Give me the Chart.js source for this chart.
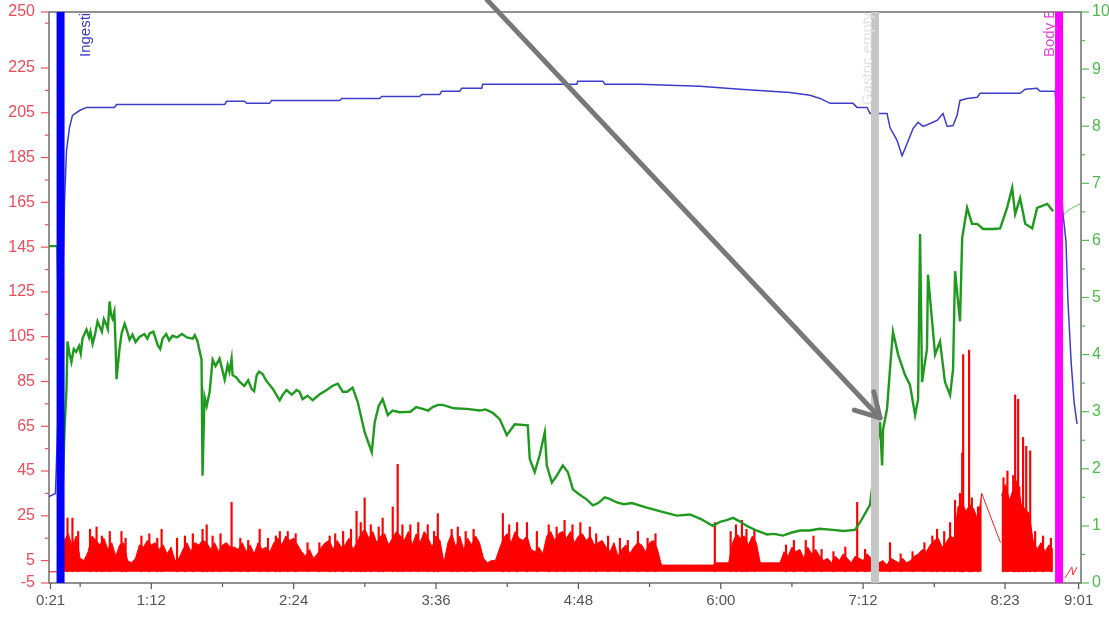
<!DOCTYPE html>
<html>
<head>
<meta charset="utf-8">
<title>Capsule recording</title>
<script src="https://cdn.jsdelivr.net/npm/chart.js@4.4.1/dist/chart.umd.min.js"></script>
<style>
  html, body { margin: 0; padding: 0; background: #fff; }
  #chart { display: block; }
</style>
</head>
<body>
<canvas id="chart" width="1109" height="617"></canvas>
<script>
// Time axis is in minutes from the start of the recording
const xTickValues = [21, 72, 144, 216, 288, 360, 432, 503.8, 541];
const xTickLabels = ['0:21', '1:12', '2:24', '3:36', '4:48', '6:00', '7:12', '8:23', '9:01'];
const xMinorTicks = [36, 108, 180, 252, 324, 396, 468];

const leftTickValues = [-5, 5, 25, 45, 65, 85, 105, 125, 145, 165, 185, 205, 225, 250];
const leftMinorTicks = [15, 35, 55, 75, 95, 115, 135, 155, 175, 195, 215, 245];
const rightTickValues = [0, 1, 2, 3, 4, 5, 6, 7, 8, 9, 10];
const rightMinorTicks = [0.5, 1.5, 2.5, 3.5, 4.5, 5.5, 6.5, 7.5, 8.5, 9.5];

// Event markers
const eventTimes = [26.1, 438, 531.1];
const eventNames = ['Ingestion', 'Gastric emptying', 'Body Exit'];

// Temperature trace (left axis) as [minute, value]
const tempTrace = [
  [20.2, 33.6], [23.5, 35.0], [27.6, 143], [28.1, 165.6], [29.1, 188.1], [30.6, 198.4],
  [32.1, 203.8], [35.7, 206.0], [39.2, 207.4], [53.4, 207.4], [54.4, 208.7], [109.1, 208.7],
  [110.1, 210.1], [119.2, 210.1], [120.2, 209.2], [131.8, 209.2], [132.8, 210.5], [167.3, 210.5],
  [168.3, 211.4], [187.5, 211.4], [188.5, 212.3], [207.7, 212.3], [208.8, 213.2], [217.9, 213.2],
  [218.9, 214.6], [228.0, 214.6], [229.0, 215.9], [239.1, 215.9], [239.6, 217.7], [287.2, 217.7],
  [287.7, 219.1], [300.4, 219.1], [301.4, 217.7], [319.1, 217.7], [349.5, 216.8], [369.7, 215.5],
  [395.0, 214.1], [405.1, 212.8], [410.2, 211.4], [415.3, 209.2], [426.9, 209.2], [428.9, 207.4],
  [434.0, 207.4], [435.5, 204.7], [444.1, 204.7], [445.6, 198.4], [449.2, 192.6], [451.7, 185.8],
  [454.2, 191.2], [457.3, 198.0], [459.8, 200.7], [462.3, 198.9], [465.9, 200.2], [469.4, 201.6],
  [472.4, 204.7], [474.5, 198.9], [477.5, 199.3], [479.5, 203.8], [481.0, 210.5], [484.6, 211.4],
  [489.7, 211.9], [491.2, 213.7], [511.4, 213.7], [514.0, 215.5], [520.0, 215.9], [521.5, 214.6],
  [529.1, 214.6], [533.1, 159.8], [534.6, 147.7], [535.6, 120.7], [537.2, 93.8], [538.7, 75.8],
  [540.2, 66.0]
];

// pH trace (right axis) as [minute, pH]
const phTrace = [
  [20.2, 5.90], [24.5, 5.90], [27.1, 1.58], [28.1, 2.69], [29.1, 3.40], [29.6, 4.23], [30.6, 4.02],
  [31.6, 3.87], [32.8, 4.10], [34.0, 4.05], [35.5, 4.15], [36.3, 4.02], [37.2, 4.28], [38.0, 4.35],
  [39.2, 4.44], [40.5, 4.30], [41.2, 4.40], [42.3, 4.19], [43.5, 4.35], [44.8, 4.58], [46.0, 4.48],
  [47.0, 4.40], [48.0, 4.62], [49.3, 4.52], [50.0, 4.45], [50.9, 4.93], [51.6, 4.70], [52.4, 4.63],
  [53.3, 4.75], [53.9, 4.20], [54.4, 3.57], [55.9, 4.10], [57.0, 4.38], [58.5, 4.54], [59.7, 4.42],
  [61.0, 4.26], [62.5, 4.35], [64.0, 4.22], [66.0, 4.31], [68.5, 4.36], [70.0, 4.28], [71.1, 4.37],
  [73.0, 4.40], [74.0, 4.30], [75.2, 4.17], [76.5, 4.10], [77.7, 4.28], [79.5, 4.36], [81.0, 4.25],
  [82.7, 4.33], [85.0, 4.30], [87.5, 4.36], [90.0, 4.30], [92.9, 4.28], [94.0, 4.34], [95.4, 4.23],
  [96.5, 4.05], [97.4, 3.91], [97.9, 1.88], [98.9, 3.26], [100.0, 3.10], [101.5, 3.35], [103.0, 3.91],
  [104.5, 3.80], [106.5, 3.93], [107.8, 3.75], [109.1, 3.56], [110.6, 3.82], [111.5, 3.70], [112.6, 3.93],
  [113.1, 3.64], [115.0, 3.60], [116.7, 3.52], [119.0, 3.45], [121.0, 3.55], [122.7, 3.40], [124.0, 3.36],
  [125.3, 3.64], [126.5, 3.70], [128.3, 3.66], [130.0, 3.55], [131.8, 3.47], [133.5, 3.40], [136.9, 3.20],
  [138.5, 3.30], [140.4, 3.38], [143.0, 3.30], [145.5, 3.38], [147.0, 3.35], [148.5, 3.22], [151.0, 3.28],
  [153.6, 3.20], [157.0, 3.30], [160.7, 3.38], [163.5, 3.45], [166.3, 3.49], [168.8, 3.35], [171.0, 3.35],
  [173.8, 3.42], [176.4, 3.17], [179.9, 2.64], [183.5, 2.29], [185.0, 2.82], [187.0, 3.10], [189.0, 3.22],
  [191.6, 2.94], [194.0, 3.02], [197.6, 2.99], [203.0, 3.00], [206.0, 3.08], [209.3, 3.05], [212.0, 3.02],
  [214.3, 3.08], [217.0, 3.12], [219.4, 3.12], [225.0, 3.06], [231.5, 3.05], [238.0, 3.02], [241.0, 3.04],
  [244.7, 2.98], [248.2, 2.87], [251.8, 2.59], [255.8, 2.78], [262.4, 2.76], [263.4, 2.17], [265.9, 1.94],
  [268.5, 2.25], [271.0, 2.64], [272.0, 2.06], [274.6, 1.76], [277.1, 1.88], [280.1, 2.06], [282.7, 1.94],
  [285.2, 1.64], [288.5, 1.55], [292.3, 1.46], [295.3, 1.36], [298.0, 1.40], [301.4, 1.50], [304.0, 1.47],
  [307.5, 1.41], [311.0, 1.38], [315.0, 1.40], [322.6, 1.32], [330.0, 1.25], [337.8, 1.18], [344.4, 1.20],
  [350.0, 1.12], [353.0, 1.06], [356.0, 1.00], [359.6, 1.07], [363.0, 1.10], [366.2, 1.14], [369.5, 1.08],
  [373.2, 1.00], [378.0, 0.92], [383.4, 0.85], [387.0, 0.86], [391.5, 0.83], [395.5, 0.88], [400.1, 0.92],
  [405.0, 0.92], [410.0, 0.95], [416.8, 0.93], [422.0, 0.91], [427.9, 0.93], [430.4, 1.06], [435.5, 1.37],
  [440.6, 2.82], [441.6, 2.06], [442.1, 2.69], [444.1, 3.05], [445.6, 3.75], [447.1, 4.40], [449.7, 4.00],
  [453.2, 3.64], [455.7, 3.47], [458.3, 2.94], [459.8, 3.22], [460.8, 6.11], [461.8, 3.52], [464.3, 4.10],
  [464.8, 5.40], [466.9, 4.58], [468.4, 4.00], [470.9, 4.23], [473.4, 3.52], [476.0, 3.29], [477.5, 3.75],
  [478.5, 5.46], [481.0, 4.58], [482.1, 6.04], [484.6, 6.57], [487.1, 6.29], [489.7, 6.29], [492.7, 6.20],
  [497.7, 6.20], [501.3, 6.21], [504.8, 6.57], [507.4, 6.92], [508.9, 6.46], [511.4, 6.74], [514.0, 6.29],
  [517.5, 6.21], [520.0, 6.57], [525.1, 6.64], [528.1, 6.51]
];
const phAfterExit = [[532.7, 6.43], [536.7, 6.55], [541.8, 6.64]];

// Pressure (left axis), sampled every 2 minutes from minute 20; null = no signal
const pressureStart = 20;
const pressureStep = 2;
const pressureValues = [
  0, 0, 0, 0, 14, 17, 11, 16, 6, 5,
  9, 16, 14, 12, 15, 10, 13, 7, 12, 13,
  5, 4, 6, 12, 11, 14, 12, 13, 10, 12,
  8, 11, 5, 6, 10, 13, 9, 13, 12, 14,
  13, 10, 13, 9, 12, 13, 11, 11, 10, 13,
  9, 12, 8, 13, 10, 11, 9, 13, 15, 12,
  16, 14, 15, 12, 9, 7, 10, 6, 8, 11,
  13, 14, 10, 14, 11, 12, 15, 10, 13, 17,
  19, 15, 18, 13, 16, 17, 12, 15, 18, 16,
  14, 18, 12, 17, 13, 18, 15, 11, 16, 14,
  4, 13, 17, 11, 16, 10, 15, 12, 16, 13,
  6, 4, 5, 5, 10, 15, 17, 13, 18, 15,
  14, 16, 10, 9, 11, 8, 16, 18, 14, 17,
  18, 15, 18, 13, 16, 17, 14, 16, 12, 13,
  14, 11, 9, 13, 7, 10, 12, 8, 11, 13,
  12, 9, 13, 14, 10, 3, 3, 3, 3, 3,
  3, 3, 3, 3, 3, 3, 3, 3, 3, 4,
  4, 4, 4, 13, 17, 15, 16, 12, 16, 13,
  4, 4, 4, 4, 4, 4, 9, 7, 11, 9,
  10, 6, 11, 8, 10, 7, 5, 6, 4, 7,
  5, 8, 6, 4, 7, 6, 5, 8, 6, 4,
  4, 5, 3, 6, 5, 4, 6, 4, 5, 7,
  8, 10, 9, 12, 14, 15, 11, 13, 16, 15,
  29, 31, 27, 30, 28, 23, 35,
  null, null, null, null,
  34, 39, 32, 37, 41, 30, 28, 26, 14, 10, 13, 9, 12, 10
];
// Isolated pressure peaks as [minute, value]
const pressurePeaks = [
  [29.6, 24], [32.1, 24], [35, 18], [41, 19], [44.3, 20], [47, 16], [51, 18], [56.9, 18], [59, 15],
  [67, 16], [71, 17], [75, 15], [77.2, 19], [85, 15], [89, 16], [93, 17], [97.9, 19], [100.0, 21],
  [103, 16], [107, 17], [112.6, 31], [117, 15], [121, 14], [126.8, 19], [131, 15], [135, 16], [137, 18],
  [141.0, 18], [145, 17], [151, 13], [157, 13], [162.2, 16], [165, 17], [169, 18], [173, 19], [175.8, 27],
  [177.9, 22], [179.9, 33], [183, 21], [187, 20], [189.0, 24], [194.1, 29], [196.6, 48], [199, 21],
  [203, 21], [207, 22], [211.8, 21], [215, 18], [216.9, 26], [223.9, 19], [227, 20], [231, 18], [235, 19],
  [249.8, 26], [253, 21], [257, 22], [262.0, 22], [267, 18], [273, 21], [277, 20], [281.0, 23], [285, 21],
  [289, 22], [293.8, 20], [297, 17], [303, 16], [309, 15], [313, 14], [318.1, 18], [323, 15], [327, 17],
  [357.0, 22], [365, 18], [367.7, 21], [370.7, 23], [373, 19], [377, 19], [393, 12], [397, 14], [403, 14],
  [406.9, 16], [411, 10], [417, 9], [423, 11], [429.0, 31], [433, 10], [445.6, 13], [451, 8], [457, 9],
  [463, 13], [467, 16], [469.4, 19], [473, 18], [476.0, 22], [478.5, 32], [481, 35], [482.1, 53],
  [482.6, 97], [485.6, 99], [487, 33], [490.1, 29], [503, 42], [505, 45], [507.9, 43], [508.9, 79],
  [510.4, 77], [511, 38], [512.9, 60], [514.5, 56], [516.5, 54], [519, 18], [523, 16], [527, 15]
];
const pressureDropout = [[492, 35], [501.5, 13]];
const pressureAfterExit = [[534.1, -2.8], [537.6, 2.1], [538.1, -1.4], [540.2, 2.1]];

// Arrow annotation, in [minute, left-axis value]
const arrowFrom = [241.8, 255.4];
const arrowTo = [440.6, 68.7];

const markerStyles = [
  { color: '#0000ff', width: 8, text: '#3c3cc8', labelDx: 25, labelStart: 45 },
  { color: '#c6c6c6', width: 8, text: '#e2e2e2', labelDx: -7, labelStart: 93 },
  { color: '#ff00ff', width: 8, text: '#e04ad2', labelDx: -9, labelStart: 45 }
];

const FONT = '"Liberation Sans", Arial, sans-serif';
const toPoints = arr => arr.map(([x, y]) => ({ x, y }));

function tickMarks(ctx, scale, values, len, color, side) {
  ctx.strokeStyle = color;
  ctx.lineWidth = 1.2;
  values.forEach(v => {
    const p = scale.getPixelForValue(v);
    ctx.beginPath();
    if (side === 'left') { ctx.moveTo(scale.right - len, p); ctx.lineTo(scale.right, p); }
    else if (side === 'right') { ctx.moveTo(scale.left, p); ctx.lineTo(scale.left + len, p); }
    else { ctx.moveTo(p, scale.top); ctx.lineTo(p, scale.top + len); }
    ctx.stroke();
  });
}

const overlay = {
  id: 'overlay',
  beforeDatasetsDraw(chart) {
    const { ctx, chartArea: a, scales } = chart;
    ctx.save();
    ctx.strokeStyle = '#6e6e6e';
    ctx.lineWidth = 1.5;
    ctx.strokeRect(a.left, a.top, a.right - a.left, a.bottom - a.top);
    tickMarks(ctx, scales.y, leftTickValues, 8, '#ee5060', 'left');
    tickMarks(ctx, scales.y, leftMinorTicks, 4, '#ee5060', 'left');
    tickMarks(ctx, scales.y2, rightTickValues, 8, '#55bb55', 'right');
    tickMarks(ctx, scales.y2, rightMinorTicks, 4, '#55bb55', 'right');
    tickMarks(ctx, scales.x, xTickValues, 6, '#555', 'bottom');
    tickMarks(ctx, scales.x, xMinorTicks, 4, '#555', 'bottom');
    ctx.restore();
  },
  afterDatasetsDraw(chart) {
    // vertical event names, clipped at the plot frame
    const { ctx, chartArea: a, scales: { x } } = chart;
    ctx.save();
    ctx.beginPath();
    ctx.rect(a.left, a.top, a.right - a.left, a.bottom - a.top);
    ctx.clip();
    ctx.font = '15px ' + FONT;
    ctx.textBaseline = 'middle';
    ctx.textAlign = 'left';
    eventTimes.forEach((t, i) => {
      const st = markerStyles[i];
      ctx.save();
      ctx.translate(x.getPixelForValue(t) + st.labelDx, a.top + st.labelStart);
      ctx.rotate(-Math.PI / 2);
      ctx.fillStyle = st.text;
      ctx.fillText(eventNames[i], 0, 0);
      ctx.restore();
    });
    ctx.restore();
  },
  afterDraw(chart) {
    const { ctx, scales: { x, y } } = chart;
    const x0 = x.getPixelForValue(arrowFrom[0]), y0 = y.getPixelForValue(arrowFrom[1]);
    const x1 = x.getPixelForValue(arrowTo[0]), y1 = y.getPixelForValue(arrowTo[1]);
    const ang = Math.atan2(y1 - y0, x1 - x0);
    ctx.save();
    ctx.strokeStyle = '#787878';
    ctx.lineWidth = 5;
    ctx.lineCap = 'round';
    ctx.lineJoin = 'round';
    ctx.beginPath();
    ctx.moveTo(x0, y0);
    ctx.lineTo(x1, y1);
    ctx.stroke();
    ctx.beginPath();
    ctx.moveTo(x1 - 27 * Math.cos(ang - 0.52), y1 - 27 * Math.sin(ang - 0.52));
    ctx.lineTo(x1, y1);
    ctx.lineTo(x1 - 27 * Math.cos(ang + 0.52), y1 - 27 * Math.sin(ang + 0.52));
    ctx.stroke();
    ctx.restore();
  }
};

const markerSets = eventTimes.map((t, i) => ({
  type: 'line',
  data: [{ x: t, y: -5 }, { x: t, y: 250 }],
  borderColor: markerStyles[i].color,
  borderWidth: markerStyles[i].width,
  borderCapStyle: 'butt',
  yAxisID: 'y',
  order: 0
}));

// vertical axes: no extra room for half-labels at the ends
const noEndPadding = s => { s.paddingTop = 0; s.paddingBottom = 0; };

new Chart(document.getElementById('chart').getContext('2d'), {
  type: 'line',
  data: {
    datasets: [
      ...markerSets,
      {
        data: toPoints(tempTrace),
        borderColor: '#3d3dcc',
        borderWidth: 1.5,
        yAxisID: 'y',
        order: 1
      },
      {
        data: toPoints(phTrace),
        borderColor: '#1f9a1f',
        borderWidth: 2.4,
        yAxisID: 'y2',
        order: 2
      },
      {
        data: toPoints(phAfterExit),
        borderColor: '#8fcf8f',
        borderWidth: 1.2,
        yAxisID: 'y2',
        order: 2
      },
      {
        data: pressureValues.map((v, i) => ({ x: pressureStart + i * pressureStep, y: v })),
        borderColor: '#ff0000',
        backgroundColor: '#ff0000',
        borderWidth: 1,
        fill: 'origin',
        spanGaps: false,
        yAxisID: 'y',
        order: 3
      },
      {
        type: 'bar',
        data: toPoints(pressurePeaks),
        backgroundColor: '#ff0000',
        barThickness: 1.5,
        grouped: false,
        yAxisID: 'y',
        order: 4
      },
      {
        data: toPoints(pressureDropout),
        borderColor: '#ff2020',
        borderWidth: 1,
        yAxisID: 'y',
        order: 3
      },
      {
        data: toPoints(pressureAfterExit),
        borderColor: '#ff2020',
        borderWidth: 1,
        yAxisID: 'y',
        order: 3
      }
    ]
  },
  options: {
    responsive: false,
    animation: false,
    layout: { padding: { top: 12, left: 0, right: 0, bottom: 0 } },
    plugins: { legend: { display: false }, tooltip: { enabled: false } },
    elements: { point: { radius: 0 }, line: { tension: 0 } },
    scales: {
      x: {
        type: 'linear',
        min: 20.25,
        max: 542.2,
        offset: false,
        grid: { display: false, drawTicks: false },
        border: { display: false },
        afterBuildTicks: s => { s.ticks = xTickValues.map(v => ({ value: v })); },
        afterFit: s => { s.height = 34; s.paddingLeft = 0; s.paddingRight = 0; },
        ticks: {
          autoSkip: false, maxRotation: 0, padding: 9, color: '#555',
          font: { family: FONT, size: 15 },
          callback: (v, i) => xTickLabels[i]
        }
      },
      y: {
        position: 'left',
        min: -5,
        max: 250,
        grid: { display: false, drawTicks: false },
        border: { display: false },
        afterBuildTicks: s => { s.ticks = leftTickValues.map(v => ({ value: v })); },
        afterFit: s => { s.width = 49; noEndPadding(s); },
        ticks: { padding: 14, color: '#ee4b5b', font: { family: FONT, size: 16 } }
      },
      y2: {
        position: 'right',
        min: 0,
        max: 10,
        grid: { display: false, drawTicks: false },
        border: { display: false },
        afterBuildTicks: s => { s.ticks = rightTickValues.map(v => ({ value: v })); },
        afterFit: s => { s.width = 28; noEndPadding(s); },
        ticks: { padding: 11, color: '#4cbb4c', font: { family: FONT, size: 16 } }
      }
    }
  },
  plugins: [overlay]
});
</script>
</body>
</html>
